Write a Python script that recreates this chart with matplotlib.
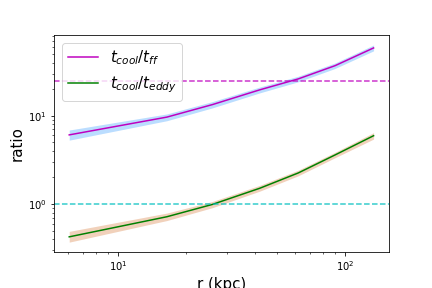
import numpy as np
import matplotlib
matplotlib.use('Agg')
import matplotlib.pyplot as plt

# radii (kpc) and ratios
r = np.array([6.1, 16.4, 26.0, 42.0, 62.0, 90.0, 133.0])
tff_ratio = np.array([6.08, 9.67, 13.4, 19.7, 26.2, 37.0, 58.8])
tff_lo = np.array([5.3, 8.8, 12.3, 18.2, 24.3, 34.4, 54.5])
tff_hi = np.array([6.9, 10.5, 14.5, 21.2, 28.1, 39.7, 63.5])
teddy_ratio = np.array([0.425, 0.718, 0.99, 1.51, 2.25, 3.6, 5.95])
teddy_lo = np.array([0.37, 0.65, 0.91, 1.40, 2.09, 3.35, 5.45])
teddy_hi = np.array([0.49, 0.79, 1.07, 1.63, 2.42, 3.86, 6.45])

fig, ax = plt.subplots(figsize=(6, 4), dpi=72)
fig.subplots_adjust(left=0.125, right=0.9, top=0.878, bottom=0.125)

ax.fill_between(r, tff_lo, tff_hi, color='dodgerblue', alpha=0.3, lw=0)
ax.plot(r, tff_ratio, c='m', label=r'$t_{cool}/t_{ff}$')
ax.fill_between(r, teddy_lo, teddy_hi, color='chocolate', alpha=0.3, lw=0)
ax.plot(r, teddy_ratio, c='g', label=r'$t_{cool}/t_{eddy}$')

ax.axhline(25, c='m', ls='--', alpha=0.8)
ax.axhline(1, c='c', ls='--', alpha=0.8)

ax.set_xscale('log')
ax.set_yscale('log')
ax.set_xlabel('r (kpc)', fontsize=15)
ax.set_ylabel('ratio', fontsize=15)
ax.legend(loc='upper left', fontsize=15)

plt.savefig('out.png')
